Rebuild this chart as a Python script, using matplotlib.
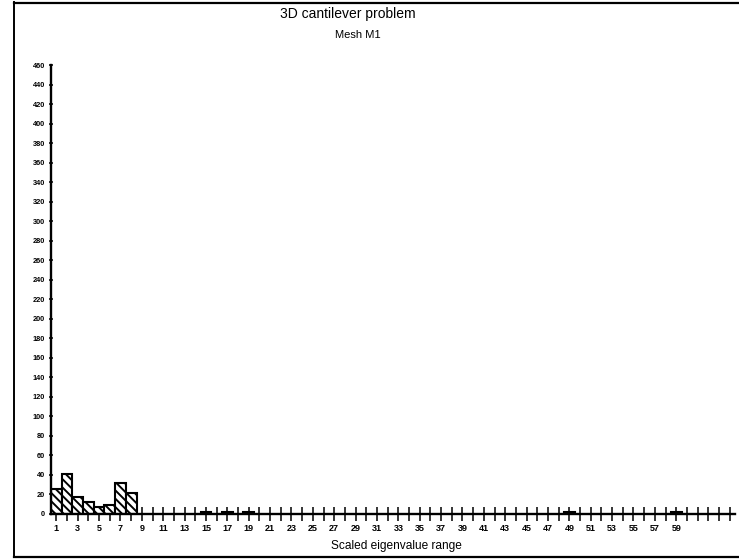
import matplotlib
matplotlib.use("Agg")
import matplotlib.pyplot as plt
from matplotlib.lines import Line2D
import numpy as np

plt.rcParams['font.family'] = ['Liberation Sans', 'DejaVu Sans']
plt.rcParams['hatch.linewidth'] = 1.4

title = "3D cantilever problem"
subtitle = "Mesh M1"
xlabel = "Scaled eigenvalue range"

categories = list(range(1, 65))
bar_positions = [1, 2, 3, 4, 5, 6, 7, 8, 15, 17, 19, 49, 59]
bar_values = [25, 41, 17, 12, 7, 9, 31, 21, 2, 2, 2, 2, 2]
x_label_values = list(range(1, 60, 2))
y_ticks = list(range(0, 461, 20))

W, H = 739, 559
fig = plt.figure(figsize=(W / 100, H / 100), dpi=100)
ax = fig.add_axes([51 / W, 1 - 513.7 / H, (735 - 51) / W, (513.7 - 65.2) / H])

ax.bar(bar_positions, bar_values, width=1.0, facecolor='white', edgecolor='black',
       linewidth=1.5, hatch='\\\\\\\\', zorder=2)

ax.set_xlim(0.5, 64.5)
ax.set_ylim(0, 460)

ax.set_xticks(categories)
ax.set_xticklabels([str(c) if c in x_label_values else '' for c in categories],
                   fontsize=6.5, fontweight='bold')
ax.set_yticks(y_ticks)
ax.set_yticklabels([str(v) for v in y_ticks], fontsize=5.3, fontweight='bold')

ax.tick_params(axis='x', direction='inout', length=10, width=1.1, pad=2.5)
ax.tick_params(axis='y', direction='inout', length=3.5, width=1.1, pad=2.5)

for s in ['top', 'right']:
    ax.spines[s].set_visible(False)
ax.spines['left'].set_linewidth(1.7)
ax.spines['bottom'].set_linewidth(1.7)
ax.set_facecolor('none')

fig.text(348 / W, 1 - 14 / H, title, ha='center', va='center', fontsize=10)
fig.text(358 / W, 1 - 35 / H, subtitle, ha='center', va='center', fontsize=8)
fig.text(396 / W, 1 - 546 / H, xlabel, ha='center', va='center', fontsize=8.6)

# outer frame of the scanned chart
fig.add_artist(Line2D([14 / W, 14 / W], [1 - 2 / H, 1 - 557 / H], color='black', lw=1.4,
                      transform=fig.transFigure))
fig.add_artist(Line2D([14 / W, 1.0], [1 - 2.5 / H, 1 - 2.5 / H], color='black', lw=1.6,
                      transform=fig.transFigure))
fig.add_artist(Line2D([14 / W, 1.0], [1 - 557 / H, 1 - 557 / H], color='black', lw=1.6,
                      transform=fig.transFigure))

fig.savefig("out.png", dpi=100)
